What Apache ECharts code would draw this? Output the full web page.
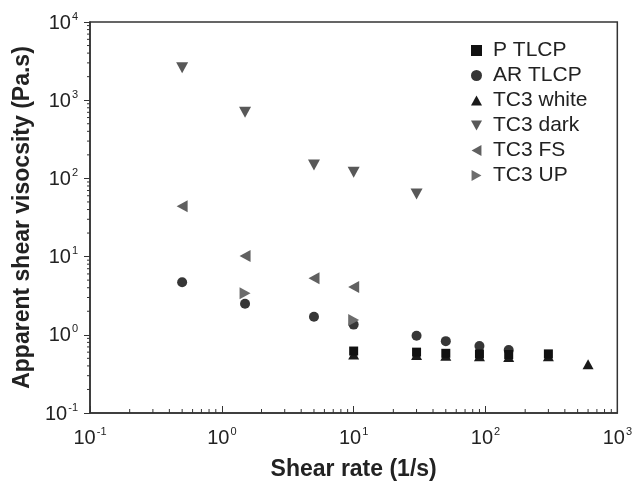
<!DOCTYPE html>
<html><head><meta charset="utf-8">
<script src="https://cdn.jsdelivr.net/npm/echarts@6/dist/echarts.min.js"></script>
<style>html,body{margin:0;padding:0;background:#fff}#c{width:635px;height:488px}</style>
</head><body><div id="c"></div>
<script>
var xTickExps = [-1, 0, 1, 2, 3];
var yTickExps = [-1, 0, 1, 2, 3, 4];
var seriesNames = ['P TLCP', 'AR TLCP', 'TC3 white', 'TC3 dark', 'TC3 FS', 'TC3 UP'];
var xP = [10, 30, 50, 90, 150, 300];
var yP = [0.62, 0.60, 0.58, 0.57, 0.56, 0.57];
var xAR = [0.5, 1.5, 5, 10, 30, 50, 90, 150];
var yAR = [4.7, 2.5, 1.7, 1.35, 0.97, 0.83, 0.72, 0.64];
var xWhite = [10, 30, 50, 90, 150, 300, 600];
var yWhite = [0.56, 0.55, 0.54, 0.53, 0.52, 0.53, 0.42];
var xDark = [0.5, 1.5, 5, 10, 30];
var yDark = [2600, 700, 148, 120, 63];
var xFS = [0.5, 1.5, 5, 10];
var yFS = [44, 10.2, 5.3, 4.1];
var xUP = [1.5, 10];
var yUP = [3.4, 1.55];
var minorMult = [2, 3, 4, 5, 6, 7, 8, 9];

function pairs(xs, ys) { return xs.map(function (x, i) { return [x, ys[i]]; }); }
function minorTicks(exps) {
  var out = [];
  for (var i = 0; i < exps.length - 1; i++) {
    minorMult.forEach(function (m) { out.push(m * Math.pow(10, exps[i])); });
  }
  return out;
}
var xMin = Math.pow(10, xTickExps[0]), xMax = Math.pow(10, xTickExps[xTickExps.length - 1]);
var yMin = Math.pow(10, yTickExps[0]), yMax = Math.pow(10, yTickExps[yTickExps.length - 1]);

var symUp = 'path://M5,0L10,9L0,9Z';
var symDown = 'path://M0,0L10,0L5,9Z';
var symLeft = 'path://M0,5L9,0L9,10Z';
var symRight = 'path://M0,0L9,5L0,10Z';

function fmt(v) {
  var e = Math.round(Math.log10(v));
  return '{b|10}{s|' + e + '}';
}
var rich = {
  b: { fontSize: 20, fontFamily: 'Liberation Sans, Arial', color: '#222', verticalAlign: 'bottom', lineHeight: 22 },
  s: { fontSize: 11, fontFamily: 'Liberation Sans, Arial', color: '#222', verticalAlign: 'top', lineHeight: 22, padding: [0, 0, 0, 1] }
};

var chart = echarts.init(document.getElementById('c'), null, { renderer: 'canvas' });
chart.setOption({
  animation: false,
  backgroundColor: '#fff',
  grid: { left: 90, right: 15, top: 22, bottom: 75, show: true, borderColor: '#333', borderWidth: 1.5, backgroundColor: 'transparent' },
  legend: {
    data: seriesNames,
    orient: 'vertical', left: 466, top: 35,
    itemWidth: 11, itemHeight: 11, itemGap: 4,
    textStyle: { fontSize: 21, fontFamily: 'Liberation Sans, Arial', color: '#222', padding: [0, 0, 0, 6] }
  },
  xAxis: {
    type: 'log', logBase: 10, min: xMin, max: xMax,
    name: 'Shear rate (1/s)', nameLocation: 'middle', nameGap: 45,
    nameTextStyle: { fontSize: 23, fontWeight: 'bold', fontFamily: 'Liberation Sans, Arial', color: '#222' },
    axisLine: { lineStyle: { color: '#333', width: 1.5 } },
    axisTick: { inside: true, length: 7, lineStyle: { color: '#333' } },
    axisLabel: { formatter: fmt, rich: rich, margin: 13 },
    splitLine: { show: false }
  },
  yAxis: {
    type: 'log', logBase: 10, min: yMin, max: yMax,
    name: 'Apparent shear visocsity (Pa.s)', nameLocation: 'middle', nameGap: 56, nameRotate: 90,
    nameTextStyle: { fontSize: 23, fontWeight: 'bold', fontFamily: 'Liberation Sans, Arial', color: '#222' },
    axisLine: { lineStyle: { color: '#333', width: 1.5 } },
    axisTick: { inside: false, length: 6, lineStyle: { color: '#333' } },
    axisLabel: { formatter: fmt, rich: rich, margin: 12 },
    splitLine: { show: false }
  },
  series: [
    { name: 'P TLCP', type: 'scatter', z: 5, symbol: 'rect', symbolSize: 9, itemStyle: { color: '#111', opacity: 1 }, data: pairs(xP, yP) },
    { name: 'AR TLCP', type: 'scatter', z: 3, symbol: 'circle', symbolSize: 10, itemStyle: { color: '#363636', opacity: 1 }, data: pairs(xAR, yAR) },
    { name: 'TC3 white', type: 'scatter', z: 2, symbol: symUp, symbolSize: [11, 10], itemStyle: { color: '#1a1a1a', opacity: 1 }, data: pairs(xWhite, yWhite) },
    { name: 'TC3 dark', type: 'scatter', z: 2, symbol: symDown, symbolSize: [12, 11], itemStyle: { color: '#585858', opacity: 1 }, data: pairs(xDark, yDark) },
    { name: 'TC3 FS', type: 'scatter', z: 2, symbol: symLeft, symbolSize: [11, 12], itemStyle: { color: '#606060', opacity: 1 }, data: pairs(xFS, yFS) },
    { name: 'TC3 UP', type: 'scatter', z: 4, symbol: symRight, symbolSize: [11, 12], itemStyle: { color: '#6c6c6c', opacity: 1 }, data: pairs(xUP, yUP) },
    {
      type: 'custom', silent: true, clip: false, z: 1,
      data: minorTicks(xTickExps),
      renderItem: function (params, api) {
        var p = api.coord([api.value(0), yMin]);
        return { type: 'line', shape: { x1: p[0], y1: p[1], x2: p[0], y2: p[1] - 4 }, style: { stroke: '#333', lineWidth: 1 } };
      },
      encode: { x: 0 }
    },
    {
      type: 'custom', silent: true, clip: false, z: 1,
      data: minorTicks(yTickExps).map(function (v) { return [xMin, v]; }),
      renderItem: function (params, api) {
        var p = api.coord([xMin, api.value(1)]);
        return { type: 'line', shape: { x1: p[0], y1: p[1], x2: p[0] - 3, y2: p[1] }, style: { stroke: '#333', lineWidth: 1 } };
      },
      encode: { x: 0, y: 1 }
    }
  ]
});
</script></body></html>
